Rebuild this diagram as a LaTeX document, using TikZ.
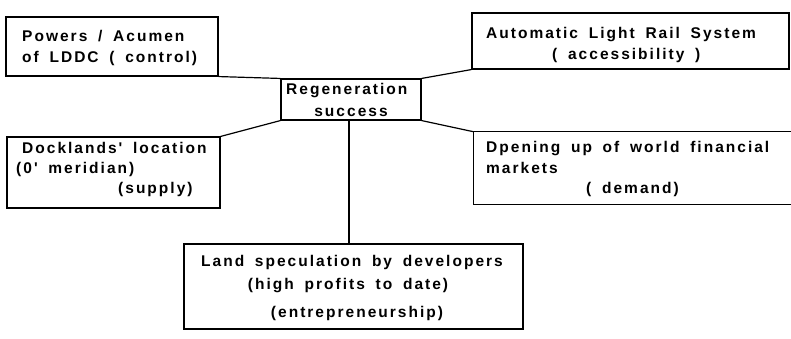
\documentclass[tikz,border=0pt]{standalone}
\usepackage{fontspec}
\newfontfamily\boxfont[LetterSpace=13,WordSpace=1.7]{Liberation Sans Bold}
\begin{document}
\begin{tikzpicture}[x=1pt,y=-1pt,
  box/.style={draw=black,line width=1.1pt,rectangle,inner sep=0pt},
  openbox/.style={rectangle,inner sep=0pt},
  link/.style={draw=black,line width=1.2pt},
  txt/.style={inner sep=0pt,anchor=base west,font=\boxfont\fontsize{15.5}{18}\selectfont},
  ctxt/.style={txt,anchor=base}]
\useasboundingbox (0,0) rectangle (791,338);

% boxes
\node[box,minimum width=212pt,minimum height=59pt] (powers) at (112,46.5) {};
\node[box,minimum width=140pt,minimum height=41pt] (regen) at (351,99.5) {};
\node[box,minimum width=317pt,minimum height=56pt] (alrs) at (630.5,41) {};
\node[box,minimum width=213pt,minimum height=71pt] (dock) at (113.5,172.5) {};
\node[openbox,minimum width=317pt,minimum height=72pt] (open) at (632.5,168) {};
\node[box,minimum width=339pt,minimum height=85pt] (land) at (353.5,286.5) {};

% the financial-markets box runs off the right edge: three sides only
\draw[line width=1.1pt] (open.north east) -- (open.north west) -- (open.south west) -- (open.south east);

% texts
\node[txt] (powersA) at (22,41) {Powers / Acumen};
\node[txt] (powersB) at (22,62) {of LDDC ( control)};

\node[txt] (regenA) at (286,94) {Regeneration};
\node[ctxt] (regenB) at (351,116) {success};

\node[txt] (alrsA) at (486,38) {Automatic Light Rail System};
\node[txt] (alrsB) at (552,59) {( accessibility )};

\node[txt] (dockA) at (22,153) {Docklands' location};
\node[txt] (dockB) at (16,173) {(0' meridian)};
\node[txt] (dockC) at (118,193) {(supply)};

\node[txt] (openA) at (486,152) {Dpening up of world financial};
\node[txt] (openB) at (486,173) {markets};
\node[txt] (openC) at (586,193) {( demand)};

\node[ctxt] (landA) at (352,266) {Land speculation by developers};
\node[ctxt] (landB) at (348,289) {(high profits to date)};
\node[ctxt] (landC) at (357,317) {(entrepreneurship)};

% connectors
\draw[link] (powers.south east) -- (regen.north west);
\draw[link] (regen.north east) -- (alrs.south west);
\draw[link] (regen.south west) -- (dock.north east);
\draw[link] (regen.south east) -- (open.north west);
\draw[link] ([xshift=-2pt]regen.south) -- ([xshift=-2pt]regen.south |- land.north);
\end{tikzpicture}
\end{document}
